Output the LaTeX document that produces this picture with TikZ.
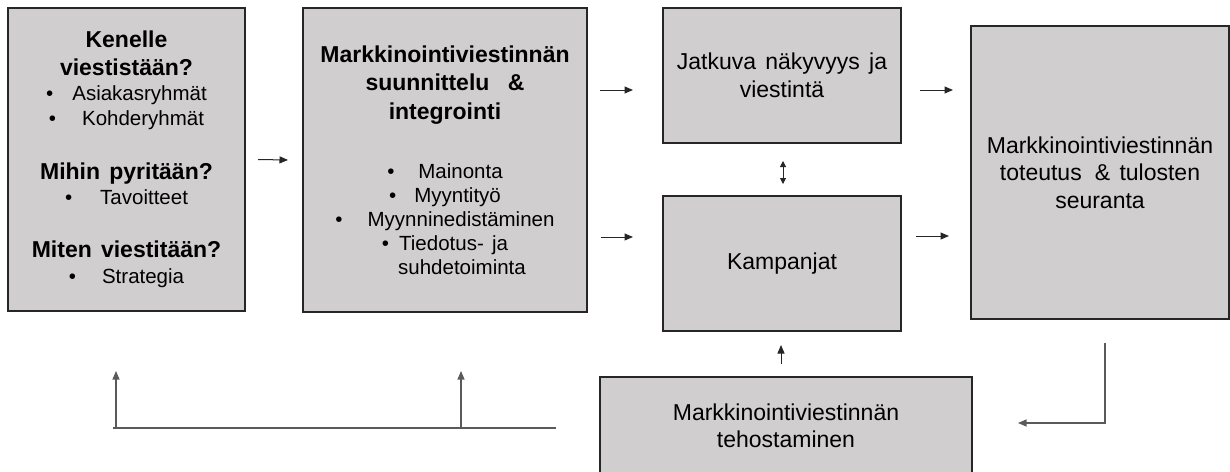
\documentclass[tikz,border=0pt]{standalone}
\usepackage{fontspec}
\setmainfont{Liberation Sans}
\usetikzlibrary{arrows.meta, positioning, calc}
\definecolor{BoxGray}{RGB}{208,206,206}
\definecolor{LineGray}{RGB}{90,90,90}

\newcommand\hdfont{\bfseries\fontsize{23pt}{28.5pt}\selectfont\spaceskip=0.4em\relax}
\newcommand\smfont{\fontsize{20.5pt}{24.5pt}\selectfont\spaceskip=0.4em\relax}
\newcommand\txfont{\fontsize{23pt}{27.5pt}\selectfont\spaceskip=0.4em\relax}
\newcommand\bul[2][20pt]{\textbullet\hspace{#1}#2}

\tikzset{
  box/.style={draw=black!85, line width=1.2pt, fill=BoxGray, inner sep=0pt,
    outer sep=0pt, align=center},
  arr/.style={draw=black!85, line width=1pt, -{Triangle[length=8.5pt,width=7pt]}},
  biarr/.style={draw=black!85, line width=1pt,
    {Triangle[length=6pt,width=6pt]}-{Triangle[length=6pt,width=6pt]}},
  back/.style={draw=LineGray, line width=1.1pt}
}

\begin{document}
\begin{tikzpicture}[x=1pt, y=-1pt]
  \useasboundingbox (0,0) rectangle (1230,471);

  % boxes
  \node[box, minimum width=237pt, minimum height=303pt, text width=230pt]
    (plan) at (126.5,159.5) {%
      {\hdfont Kenelle\par viestistään?\par}
      {\smfont\baselineskip=25pt \bul[19pt]{Asiakasryhmät}\par \bul[26pt]{Kohderyhmät}\par}
      \vspace{25pt}
      {\hdfont Mihin pyritään?\par}
      {\smfont\baselineskip=25pt \bul[28pt]{Tavoitteet}\par}
      \vspace{25pt}
      {\hdfont Miten viestitään?\par}
      {\smfont\baselineskip=26pt \bul[26pt]{Strategia}\par}};
  \node[box, minimum width=284pt, minimum height=304pt, text width=276pt]
    (integ) at (445,160) {%
      {\hdfont Markkinointiviestinnän\par suunnittelu\ \ \&\par integrointi\par}
      \vspace{35pt}
      {\smfont\baselineskip=24pt \bul[24pt]{Mainonta}\par \bul[18pt]{Myyntityö}\par
       \bul[25pt]{Myynninedistäminen}\par \bul[10pt]{Tiedotus- ja}\par
       \hspace*{34pt}suhdetoiminta\par}};
  \node[box, minimum width=238pt, minimum height=135pt, text width=230pt]
    (jatkuva) at (782,75.5) {\txfont Jatkuva näkyvyys ja\par viestintä\par};
  \node[box, minimum width=238pt, minimum height=135pt, text width=230pt]
    (kamp) at (782,263.5) {\txfont Kampanjat\par};
  \node[box, minimum width=258pt, minimum height=293pt, text width=250pt]
    (toteutus) at (1100,172.5) {\txfont Markkinointiviestinnän\par
      toteutus\hspace{4pt} \& tulosten\par seuranta\par};
  \node[box, minimum width=372pt, minimum height=98pt, text width=360pt]
    (tehost) at (786,426) {\txfont Markkinointiviestinnän\par tehostaminen\par};

  % arrows between boxes
  \draw[arr] ($(plan.east)+(13,0)$) -- ($(integ.west)+(-15,0)$);
  \draw[arr] ($(integ.east |- jatkuva.west)+(13,14.5)$) -- ($(jatkuva.west)+(-30,14.5)$);
  \draw[arr] ($(integ.east |- kamp.west)+(14,-26.5)$) -- ($(kamp.west)+(-30,-26.5)$);
  \draw[arr] ($(jatkuva.east)+(19,14.5)$) -- ($(jatkuva.east -| toteutus.west)+(-18,14.5)$);
  \draw[arr] ($(kamp.east)+(15,-27.5)$) -- ($(kamp.east -| toteutus.west)+(-22,-27.5)$);
  \draw[biarr] ($(jatkuva.south)+(1,18)$) -- ($(kamp.north)+(1,-12)$);
  \draw[arr] ($(tehost.north -| kamp.south)+(-1,-13)$) -- ($(kamp.south)+(-1,14)$);

  % feedback loop
  \draw[back, -{Triangle[length=8.5pt,width=7pt]}]
    ($(toteutus.south)+(5,24)$) |- ($(tehost.east)+(46,-3)$);
  \coordinate (loopR) at (556,428);
  \coordinate (loopL) at (113,428);
  \coordinate (upA) at (116,428);
  \coordinate (upB) at (461,428);
  \draw[back] (loopR) -- (loopL);
  \draw[back, -{Triangle[length=8.5pt,width=7pt]}] (upA) -- ++(0,-57);
  \draw[back, -{Triangle[length=8.5pt,width=7pt]}] (upB) -- ++(0,-57);
\end{tikzpicture}
\end{document}
